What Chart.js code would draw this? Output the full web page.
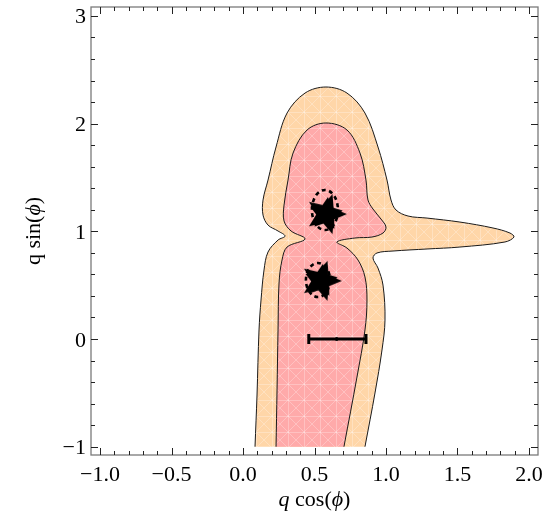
<!DOCTYPE html>
<html>
<head>
<meta charset="utf-8">
<script src="https://cdn.jsdelivr.net/npm/chart.js@4.4.1/dist/chart.umd.min.js"></script>
<style>
  html, body { margin: 0; padding: 0; background: #fff; }
</style>
</head>
<body>
<canvas id="myChart" width="544" height="521"></canvas>
<script>
// Outer (wide) contour, traced bottom-left -> top -> bottom-right
var outerX = [0.084, 0.098, 0.112, 0.126, 0.147, 0.175, 0.245, 0.294, 0.245, 0.175, 0.140, 0.140, 0.175, 0.231, 0.308, 0.434, 0.580, 0.727, 0.853, 0.944, 1.007, 1.035, 1.070, 1.154, 1.287, 1.517, 1.748, 1.867, 1.895, 1.832, 1.517, 1.287, 1.049, 0.937, 0.909, 0.944, 0.979, 0.993, 0.972, 0.923, 0.853];
var outerY = [-1.0, -0.520, 0.084, 0.362, 0.641, 0.808, 0.919, 0.956, 1.003, 1.058, 1.151, 1.291, 1.476, 1.783, 2.098, 2.284, 2.340, 2.284, 2.098, 1.783, 1.476, 1.291, 1.198, 1.142, 1.123, 1.086, 1.031, 0.984, 0.947, 0.901, 0.854, 0.836, 0.817, 0.799, 0.752, 0.659, 0.501, 0.176, -0.102, -0.501, -1.0];

// Inner (narrow) contour
var innerX = [0.231, 0.238, 0.245, 0.252, 0.273, 0.308, 0.434, 0.336, 0.287, 0.287, 0.315, 0.350, 0.448, 0.580, 0.727, 0.818, 0.860, 0.874, 0.909, 0.965, 1.000, 0.979, 0.902, 0.783, 0.657, 0.727, 0.804, 0.853, 0.867, 0.853, 0.797, 0.706];
var innerY = [-1.0, -0.474, 0.084, 0.520, 0.734, 0.854, 0.929, 1.003, 1.096, 1.244, 1.476, 1.727, 1.941, 2.006, 1.941, 1.727, 1.476, 1.291, 1.207, 1.114, 1.040, 0.984, 0.947, 0.938, 0.901, 0.845, 0.734, 0.576, 0.362, 0.084, -0.353, -1.0];

// best-fit solutions
var starX = [0.580, 0.545];
var starY = [1.160, 0.540];

// dashed uncertainty ellipses: centre and half-widths
var ellX = [0.573, 0.524];
var ellY = [1.198, 0.548];
var ellRX = [0.091, 0.084];
var ellRY = [0.186, 0.158];

// measurement with horizontal error
var errX = [0.46, 0.655, 0.86];
var errY = [0, 0, 0];

var xTicks = [-1, -0.5, 0, 0.5, 1, 1.5, 2];
var yTicks = [-1, 0, 1, 2, 3];

var FONT = "'Liberation Serif', 'DejaVu Serif', serif";

var ctx = document.getElementById("myChart").getContext("2d");

function hatch(base) {
  var c = document.createElement("canvas");
  c.width = 16; c.height = 16;
  var g = c.getContext("2d");
  g.fillStyle = base;
  g.fillRect(0, 0, 16, 16);
  g.strokeStyle = "rgba(255,255,255,0.28)";
  g.lineWidth = 1;
  g.beginPath();
  g.moveTo(0.5, 0); g.lineTo(0.5, 16);
  g.moveTo(0, 0.5); g.lineTo(16, 0.5);
  g.moveTo(0, 0); g.lineTo(16, 16);
  g.moveTo(16, 0); g.lineTo(0, 16);
  g.stroke();
  return ctx.createPattern(c, "repeat");
}

function starImage() {
  var c = document.createElement("canvas");
  c.width = 48; c.height = 48;
  var g = c.getContext("2d");
  g.fillStyle = "#000";
  [[0, 21, 9.5], [-0.2, 17, 9]].forEach(function (s) {
    g.beginPath();
    for (var i = 0; i < 10; i++) {
      var r = i % 2 ? s[2] : s[1];
      var a = s[0] + i * Math.PI / 5;
      g.lineTo(24 + r * Math.cos(a), 24 + r * Math.sin(a));
    }
    g.closePath();
    g.fill();
  });
  return c;
}

function pts(xs, ys) {
  return xs.map(function (x, i) { return { x: x, y: ys[i] }; });
}

function fmt(v, d) {
  var s = Math.abs(v).toFixed(d);
  return v < 0 ? "\u2212" + s : s;
}

function drawRuns(c, runs, cx, y) {
  var w = 0;
  runs.forEach(function (r) { c.font = r[1] + "22px " + FONT; w += c.measureText(r[0]).width; });
  var x = cx - w / 2;
  c.textAlign = "left";
  runs.forEach(function (r) {
    c.font = r[1] + "22px " + FONT;
    c.fillText(r[0], x, y);
    x += c.measureText(r[0]).width;
  });
}

// frame, inward ticks, tick labels, axis titles and ellipses
var decor = {
  id: "decor",
  afterDatasetsDraw: function (chart) {
    var c = chart.ctx, sx = chart.scales.x, sy = chart.scales.y;
    c.save();
    c.strokeStyle = "#000";
    c.lineWidth = 2.6;
    c.setLineDash([4, 3.5]);
    for (var i = 0; i < ellX.length; i++) {
      var cx = sx.getPixelForValue(ellX[i]);
      var cy = sy.getPixelForValue(ellY[i]);
      var rx = Math.abs(sx.getPixelForValue(ellX[i] + ellRX[i]) - cx);
      var ry = Math.abs(sy.getPixelForValue(ellY[i] + ellRY[i]) - cy);
      c.beginPath();
      c.ellipse(cx, cy, rx, ry, 0, 0, Math.PI * 2);
      c.stroke();
    }
    c.restore();
  },
  afterDraw: function (chart) {
    var c = chart.ctx, a = chart.chartArea, sx = chart.scales.x, sy = chart.scales.y;
    c.save();
    c.strokeStyle = "#7a7a7a";
    c.lineWidth = 1.3;
    c.strokeRect(a.left, a.top, a.right - a.left, a.bottom - a.top);

    c.strokeStyle = "#222";
    c.lineWidth = 1;
    c.beginPath();
    var k, p, len;
    for (k = -10; k <= 20; k++) {
      p = Math.round(sx.getPixelForValue(k / 10)) + 0.5;
      len = k % 5 === 0 ? 7 : 4;
      c.moveTo(p, a.bottom); c.lineTo(p, a.bottom - len);
      c.moveTo(p, a.top); c.lineTo(p, a.top + len);
    }
    for (k = -5; k <= 15; k++) {
      p = Math.round(sy.getPixelForValue(k / 5)) + 0.5;
      len = k % 5 === 0 ? 7 : 4;
      c.moveTo(a.left, p); c.lineTo(a.left + len, p);
      c.moveTo(a.right, p); c.lineTo(a.right - len, p);
    }
    c.stroke();

    c.fillStyle = "#000";
    c.textBaseline = "alphabetic";
    c.font = "22px " + FONT;
    c.textAlign = "center";
    xTicks.forEach(function (v) { c.fillText(fmt(v, 1), sx.getPixelForValue(v), a.bottom + 26); });
    c.textAlign = "right";
    yTicks.forEach(function (v) { c.fillText(fmt(v, 0), a.left - 5, sy.getPixelForValue(v) + 7.5); });

    drawRuns(c, [["q", "italic "], [" cos(", ""], ["\u03d5", "italic "], [")", ""]], (a.left + a.right) / 2, 506);
    c.translate(40, (a.top + a.bottom) / 2);
    c.rotate(-Math.PI / 2);
    drawRuns(c, [["q sin(", ""], ["\u03d5", "italic "], [")", ""]], 0, 0);
    c.restore();
  }
};

var myChart = new Chart(ctx, {
  type: "scatter",
  data: {
    datasets: [
      {
        data: pts(outerX, outerY),
        showLine: true,
        fill: "shape",
        backgroundColor: hatch("#ffd6a8"),
        borderColor: "#1a1a1a",
        borderWidth: 1,
        tension: 0.35,
        pointRadius: 0,
        order: 4,
      },
      {
        data: pts(innerX, innerY),
        showLine: true,
        fill: "shape",
        backgroundColor: hatch("#ffaaaa"),
        borderColor: "#1a1a1a",
        borderWidth: 1,
        tension: 0.35,
        pointRadius: 0,
        order: 3,
      },
      {
        data: pts(errX, errY),
        showLine: true,
        borderColor: "#000",
        backgroundColor: "#000",
        borderWidth: 3,
        pointStyle: ["line", "circle", "line"],
        rotation: [90, 0, 90],
        pointRadius: [5, 1.5, 5],
        pointBorderWidth: [3, 1, 3],
        pointBorderColor: "#000",
        order: 2,
      },
      {
        data: pts(starX, starY),
        pointStyle: starImage(),
        pointRadius: 21,
        order: 1,
      },
    ],
  },
  options: {
    responsive: false,
    animation: false,
    events: [],
    layout: { autoPadding: false, padding: { top: 7, right: 6, left: 0, bottom: 0 } },
    plugins: { legend: { display: false }, tooltip: { enabled: false } },
    scales: {
      x: {
        type: "linear",
        min: -1.063,
        max: 2.063,
        grid: { display: false, drawTicks: false },
        border: { display: false },
        ticks: { display: false },
        afterFit: function (s) { s.height = 66; },
      },
      y: {
        type: "linear",
        min: -1.077,
        max: 3.083,
        grid: { display: false, drawTicks: false },
        border: { display: false },
        ticks: { display: false },
        afterFit: function (s) { s.width = 91; },
      },
    },
  },
  plugins: [decor],
});
</script>
</body>
</html>
